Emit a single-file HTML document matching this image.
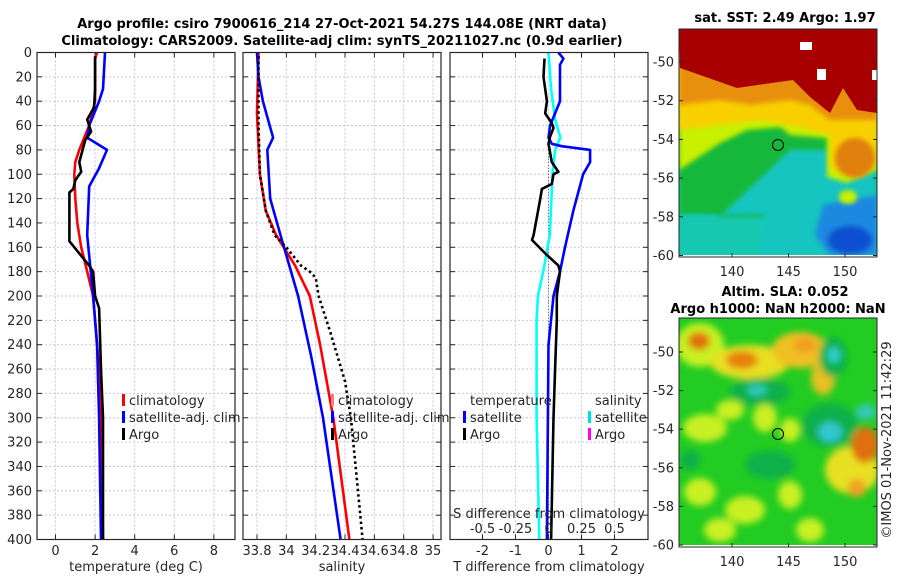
<!DOCTYPE html>
<html><head><meta charset="utf-8"><style>
html,body{margin:0;padding:0;background:#fff;}
svg{display:block;font-family:"DejaVu Sans","Liberation Sans",sans-serif;}
.t{font-size:13px;fill:#262626;}
.b{font-size:13px;font-weight:bold;fill:#000;}
</style></head><body>
<svg id="s" width="900" height="580" viewBox="0 0 900 580">
<defs>
<filter id="bl" x="-20%" y="-20%" width="140%" height="140%"><feGaussianBlur stdDeviation="3.5"/></filter>
<filter id="bl2" x="-20%" y="-20%" width="140%" height="140%"><feGaussianBlur stdDeviation="2.5"/></filter>
<clipPath id="c1"><rect x="679" y="29" width="198" height="226"/></clipPath>
<clipPath id="c2"><rect x="679" y="318" width="198" height="227"/></clipPath>
</defs>
<text class="b" x="342" y="28" text-anchor="middle">Argo profile: csiro 7900616_214 27-Oct-2021 54.27S 144.08E (NRT data)</text>
<text class="b" x="342" y="45" text-anchor="middle">Climatology: CARS2009. Satellite-adj clim: synTS_20211027.nc (0.9d earlier)</text>

<g>
<g clip-path="url(#c1)">
<rect x="679" y="29" width="198" height="226" fill="#10c8b8"/>
<polygon points="679,29 877,29 877,200 679,230" fill="#12b83a" filter="url(#bl2)"/>
<polygon points="790,150 877,150 877,255 760,255 765,215 679,215 679,255" fill="#14c4c0" filter="url(#bl2)"/>
<polygon points="679,215 765,218 760,255 679,255" fill="#18c8b0" filter="url(#bl2)"/>
<polygon points="823,205 877,195 877,255 830,255 815,235" fill="#1a88e0" filter="url(#bl2)"/>
<ellipse cx="850" cy="240" rx="22" ry="14" fill="#1050d0" filter="url(#bl2)"/>
<polygon points="679,29 877,29 877,170 847,183 827,177 827,138 790,135 780,127 747,130 720,143 679,170" fill="#c8f000" filter="url(#bl2)"/>
<polygon points="679,29 877,29 877,165 847,175 830,168 830,135 790,125 760,120 720,125 679,130" fill="#f8d000" filter="url(#bl2)"/>
<ellipse cx="855" cy="158" rx="20" ry="20" fill="#e08010" filter="url(#bl2)"/>
<ellipse cx="848" cy="197" rx="9" ry="7" fill="#c8f000" filter="url(#bl2)"/>
<polygon points="679,29 877,29 877,120 830,120 810,105 790,100 750,105 720,100 679,105" fill="#e89010" filter="url(#bl2)"/>
<polygon points="679,29 877,29 877,113 857,110 843,88 830,113 810,97 793,80 737,88 720,82 680,68" fill="#a80000"/>
<rect x="800" y="42" width="12" height="8" fill="#fff"/>
<rect x="817" y="69" width="9" height="11" fill="#fff"/>
<rect x="872" y="70" width="5" height="10" fill="#fff"/>
</g>
<rect x="679" y="29" width="198" height="228" fill="none" stroke="#262626" stroke-width="1"/>
<circle cx="778" cy="145" r="5.5" fill="none" stroke="#000" stroke-width="1"/>
</g>

<g>
<g clip-path="url(#c2)">
<rect x="679" y="318" width="198" height="229" fill="#22cc22"/>
<g filter="url(#bl)">
<ellipse cx="700" cy="345" rx="24" ry="22" fill="#c8f020"/>
<ellipse cx="699" cy="341" rx="11" ry="9" fill="#e07010"/>
<ellipse cx="750" cy="362" rx="40" ry="17" fill="#e8e020"/>
<ellipse cx="742" cy="360" rx="16" ry="9" fill="#e88010"/>
<ellipse cx="800" cy="350" rx="28" ry="18" fill="#f0c020"/>
<ellipse cx="805" cy="345" rx="12" ry="8" fill="#f0a020"/>
<ellipse cx="823" cy="378" rx="12" ry="17" fill="#e8c020"/>
<ellipse cx="833" cy="357" rx="14" ry="20" fill="#10b048"/>
<ellipse cx="834" cy="355" rx="6" ry="8" fill="#30d0d0"/>
<ellipse cx="760" cy="392" rx="30" ry="14" fill="#10b048"/>
<ellipse cx="757" cy="390" rx="10" ry="6" fill="#30c8b8"/>
<ellipse cx="830" cy="425" rx="28" ry="22" fill="#10b048"/>
<ellipse cx="830" cy="432" rx="12" ry="10" fill="#30c8d0"/>
<ellipse cx="866" cy="412" rx="10" ry="8" fill="#30c8b8"/>
<ellipse cx="705" cy="428" rx="22" ry="14" fill="#c8f020"/>
<ellipse cx="765" cy="418" rx="12" ry="14" fill="#c8f020"/>
<ellipse cx="790" cy="430" rx="10" ry="12" fill="#c8f020"/>
<ellipse cx="730" cy="410" rx="14" ry="10" fill="#c8f020"/>
<ellipse cx="852" cy="470" rx="27" ry="24" fill="#e8e020"/>
<ellipse cx="865" cy="445" rx="14" ry="18" fill="#e07010"/>
<ellipse cx="857" cy="488" rx="9" ry="9" fill="#f0a020"/>
<ellipse cx="700" cy="492" rx="16" ry="14" fill="#c8f020"/>
<ellipse cx="790" cy="495" rx="12" ry="14" fill="#c8f020"/>
<ellipse cx="745" cy="510" rx="20" ry="14" fill="#c8f020"/>
<ellipse cx="810" cy="530" rx="14" ry="12" fill="#c8f020"/>
<ellipse cx="720" cy="530" rx="16" ry="12" fill="#c8f020"/>
<ellipse cx="690" cy="460" rx="10" ry="10" fill="#10b048"/>
<ellipse cx="770" cy="465" rx="25" ry="14" fill="#10b048"/>
</g>
</g>
<rect x="679" y="318" width="198" height="229" fill="none" stroke="#262626" stroke-width="1"/>
<circle cx="778" cy="434" r="5.5" fill="none" stroke="#000" stroke-width="1"/>
</g>

<text class="b" x="785" y="22" text-anchor="middle">sat. SST: 2.49 Argo: 1.97</text>
<text class="b" x="785" y="296" text-anchor="middle">Altim. SLA: 0.052</text>
<text class="b" x="778" y="313" text-anchor="middle">Argo h1000: NaN h2000: NaN</text>
<text class="t" transform="translate(891,440) rotate(-90)" text-anchor="middle">©IMOS 01-Nov-2021 11:42:29</text>
<g id="g"></g>
</svg>
<script>
// ---- data ----
const tClimDepth=[0,5,20,40,60,80,90,100,120,140,160,180,200,220,260,300,400];
const tClim=[2.1,2.0,2.0,2.0,1.7,1.2,1.0,0.95,1.0,1.1,1.3,1.6,1.9,2.0,2.2,2.3,2.4];
const tSatDepth=[0,30,40,60,70,80,95,110,150,200,240,300,400];
const tSat=[2.5,2.4,2.2,1.7,1.6,2.6,2.2,1.7,1.6,1.9,2.1,2.2,2.3];
const tArgoDepth=[3,30,45,55,65,72,90,98,105,112,115,150,155,165,175,180,200,210,260,300,400];
const tArgo=[2.0,2.0,1.95,1.6,1.8,1.5,1.2,1.3,1.0,0.9,0.7,0.7,0.7,1.2,1.7,1.9,2.0,2.2,2.3,2.4,2.4];
const sClimDepth=[0,50,100,130,150,175,200,240,300,400];
const sClim=[33.81,33.80,33.82,33.86,33.93,34.06,34.16,34.23,34.32,34.43];
const sSatDepth=[0,20,40,70,80,120,150,200,250,300,350,400];
const sSat=[33.80,33.81,33.84,33.91,33.87,33.89,33.96,34.08,34.17,34.25,34.31,34.37];
const sArgoDepth=[3,60,100,130,150,160,175,180,185,200,230,270,300,350,400];
const sArgo=[33.81,33.81,33.82,33.86,33.92,34.0,34.1,34.16,34.2,34.22,34.3,34.4,34.44,34.48,34.52];
const dTSatDepth=[0,5,10,40,60,70,75,77,80,90,100,130,160,180,200,240,400];
const dTSat=[0.3,0.45,0.35,0.35,0.05,0,0.1,0.4,1.26,1.26,1.05,0.75,0.5,0.35,0.15,0,-0.05];
const dTArgoDepth=[5,20,40,50,58,62,69,75,90,98,100,108,112,120,150,154,165,175,180,200,220,260,300,400];
const dTArgo=[-0.12,-0.15,-0.05,-0.1,0.1,0.15,0.05,0,0.1,0.3,0.15,0.1,-0.2,-0.25,-0.45,-0.5,-0.1,0.3,0.35,0.25,0.25,0.2,0.15,0.08];
const dSSatDepth=[0,30,55,70,80,100,150,180,200,220,300,400];
const dSSat=[0,0.02,0.05,0.09,0.05,0.03,0.01,-0.04,-0.08,-0.09,-0.09,-0.07];
const depthTicks=[0,20,40,60,80,100,120,140,160,180,200,220,240,260,280,300,320,340,360,380,400];
const tTicks=[0,2,4,6,8];
const sTicks=["33.8","34","34.2","34.4","34.6","34.8","35"];
const dTTicks=[-2,-1,0,1,2];
const dSTicks=["-0.5","-0.25","0","0.25","0.5"];

const NS='http://www.w3.org/2000/svg';
const G=document.getElementById('g');
function mk(tag,attrs,parent){const e=document.createElementNS(NS,tag);for(const k in attrs)e.setAttribute(k,attrs[k]);(parent||G).appendChild(e);return e;}
const Y0=52.5,Y1=539.5;
const yS=d=>Y0+(Y1-Y0)*d/400;
const panels=[
 {x0:37,x1:235,xs:v=>55.5+v*19.8,ticks:tTicks,lab:"temperature (deg C)",name:"temperature-panel"},
 {x0:243,x1:441,xs:v=>257+(v-33.8)*146.7,ticks:sTicks.map(Number),tl:sTicks,lab:"salinity",name:"salinity-panel"},
 {x0:450,x1:648,xs:v=>548.5+v*33,ticks:dTTicks,lab:"T difference from climatology",name:"difference-panel"}
];
const dsx=v=>548.5+v*132;
panels.forEach((p,pi)=>{
 const g=mk('g',{});
 
 
 depthTicks.forEach(d=>{
  const l=mk('line',{x1:p.x0,x2:p.x1,y1:yS(d),y2:yS(d),stroke:'#c4c8e4','stroke-width':1,'stroke-dasharray':'2 2'},g);
  
  
  mk('line',{x1:p.x0,x2:p.x0+5,y1:yS(d),y2:yS(d),stroke:'#262626'},g);
  mk('line',{x1:p.x1-5,x2:p.x1,y1:yS(d),y2:yS(d),stroke:'#262626'},g);
 });
 p.ticks.forEach((v,i)=>{
  const x=p.xs(v);
  const l=mk('line',{x1:x,x2:x,y1:Y0,y2:Y1,stroke:'#c4c8e4','stroke-width':1,'stroke-dasharray':'2 2'},g);
  
  
  mk('line',{x1:x,x2:x,y1:Y1-5,y2:Y1,stroke:'#262626'},g);
  mk('line',{x1:x,x2:x,y1:Y0,y2:Y0+5,stroke:'#262626'},g);
  const t=mk('text',{x:x,y:555,'text-anchor':'middle',class:'t'},g);
  t.textContent=p.tl?p.tl[i]:String(v);
  
  
 });
 const xl=mk('text',{x:(p.x0+p.x1)/2,y:571,'text-anchor':'middle',class:'t'},g);
 xl.textContent=p.lab;
 
 
});
depthTicks.forEach(d=>{
 const t=mk('text',{x:32,y:yS(d)+4.5,'text-anchor':'end',class:'t'});
 t.textContent=String(d);
 
 
});
function line(xs,depths,vals,color,name,dash){
 const pts=vals.map((v,i)=>xs(v).toFixed(1)+','+yS(depths[i]).toFixed(1)).join(' ');
 const a={points:pts,fill:'none',stroke:color,'stroke-width':2.6,'stroke-linejoin':'round'};
 if(dash){a['stroke-dasharray']=dash;}
 const e=mk('polyline',a);
 
 
}
const P=panels;
const zl=mk('line',{x1:548.5,x2:548.5,y1:yS(70),y2:Y1,stroke:'#555','stroke-width':1,'stroke-dasharray':'1 2'});


line(P[0].xs,tClimDepth,tClim,'#ff0000','temp-climatology-line');
line(P[0].xs,tSatDepth,tSat,'#0000ff','temp-satellite-line');
line(P[0].xs,tArgoDepth,tArgo,'#000','temp-argo-line');
line(P[1].xs,sClimDepth,sClim,'#ff0000','sal-climatology-line');
line(P[1].xs,sSatDepth,sSat,'#0000ff','sal-satellite-line');
line(P[1].xs,sArgoDepth,sArgo,'#000','sal-argo-line','2.5 3');
line(dsx,dSSatDepth,dSSat,'#00ffff','sdiff-satellite-line');
line(P[2].xs,dTSatDepth,dTSat,'#0000ff','tdiff-satellite-line');
line(P[2].xs,dTArgoDepth,dTArgo,'#000','tdiff-argo-line');
panels.forEach(p=>{
 const r=mk('rect',{x:p.x0,y:Y0,width:p.x1-p.x0,height:Y1-Y0,fill:'none',stroke:'#262626','stroke-width':1.2});
 
 
});
const st=mk('text',{x:549,y:518,'text-anchor':'middle',class:'t'});
st.textContent='S difference from climatology';


dSTicks.forEach(v=>{
 const t=mk('text',{x:dsx(Number(v)),y:533,'text-anchor':'middle',class:'t'});
 t.textContent=v;
 
 
});
function legend(x,y,color,label,name){
 const g=mk('g',{});
 
 
 mk('rect',{x:x-7,y:y-11,width:3,height:12,fill:color},g);
 const t=mk('text',{x:x,y:y,class:'t'},g);t.textContent=label;
}
legend(129,405,'#ff0000','climatology','legend-temp-climatology');
legend(129,422,'#0000ff','satellite-adj. clim','legend-temp-satellite');
legend(129,439,'#000','Argo','legend-temp-argo');
legend(338,405,'#ff8080','climatology','legend-sal-climatology');
legend(338,422,'#0000ff','satellite-adj. clim','legend-sal-satellite');
legend(338,439,'#000','Argo','legend-sal-argo');
const lt=mk('text',{x:470,y:405,class:'t'});lt.textContent='temperature';


legend(470,422,'#0000ff','satellite','legend-tdiff-satellite');
legend(470,439,'#000','Argo','legend-tdiff-argo');
const ls=mk('text',{x:595,y:405,class:'t'});ls.textContent='salinity';


legend(595,422,'#00e0e0','satellite','legend-sdiff-satellite');
legend(595,439,'#ff00ff','Argo','legend-sdiff-argo');
const latT=[-50,-52,-54,-56,-58,-60];
const lonT=[140,145,150];
[[62,255.5,257,'sst'],[352,545,547,'sla']].forEach(m=>{
 latT.forEach((la,i)=>{
  const y=m[0]+(m[1]-m[0])*i/5;
  const t=mk('text',{x:674,y:y+4.5,'text-anchor':'end',class:'t'});t.textContent=String(la);
  
  
  mk('line',{x1:679,x2:683,y1:y,y2:y,stroke:'#262626'});
  mk('line',{x1:873,x2:877,y1:y,y2:y,stroke:'#262626'});
 });
 lonT.forEach(lo=>{
  const x=732+(lo-140)*11.3;
  const t=mk('text',{x:x,y:m[2]+19,'text-anchor':'middle',class:'t'});t.textContent=String(lo);
  
  
  mk('line',{x1:x,x2:x,y1:m[2]-4,y2:m[2],stroke:'#262626'});
 });
});
</script>
</body></html>
